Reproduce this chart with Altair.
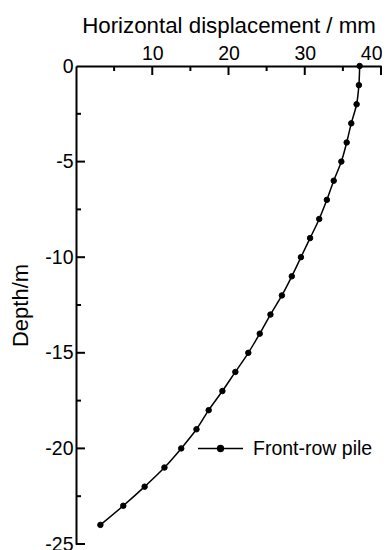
import altair as alt
import pandas as pd

# ---- data ----
depth = [0, -1, -2, -3, -4, -5, -6, -7, -8, -9, -10, -11, -12,
         -13, -14, -15, -16, -17, -18, -19, -20, -21, -22, -23, -24]
displacement = [37.2, 37.1, 36.8, 36.1, 35.5, 34.8, 33.8, 32.9, 31.9, 30.7, 29.5, 28.3, 27.0,
                25.5, 24.1, 22.6, 20.9, 19.2, 17.4, 15.8, 13.8, 11.6, 9.0, 6.2, 3.2]
series_name = "Front-row pile"

x_labels = [10, 20, 30, 40]
x_minor = [5, 15, 25, 35]
y_labels = [0, -5, -10, -15, -20, -25]
y_major_ticks = [-5, -10, -15, -20, -25]
y_minor_ticks = [-2.5, -7.5, -12.5, -17.5, -22.5]

FONT = "Liberation Sans"

df = pd.DataFrame({"depth": depth, "disp": displacement,
                   "series": [series_name] * len(depth)})

xscale = alt.Scale(domain=[0, 40], nice=False, zero=False)
yscale = alt.Scale(domain=[-25, 0], nice=False, zero=False)

x_axis = alt.Axis(
    orient="top", values=x_labels, ticks=False,
    labelPadding=3, labelFont=FONT, labelFontSize=19.5, labelColor="black",
    labelFlush=True, labelFlushOffset=1, labelOverlap=False,
    domainColor="black", domainWidth=2, grid=False,
    title="Horizontal displacement / mm", titleFont=FONT, titleFontSize=22.3,
    titleFontWeight="normal", titleColor="black",
    titleX=152.5, titleY=-34, titleBaseline="alphabetic", titleAlign="center",
)
y_axis = alt.Axis(
    orient="left", values=y_labels, ticks=False,
    labelPadding=3, labelFont=FONT, labelFontSize=19.5, labelColor="black",
    labelFlush=False, labelOverlap=False, labelExpr="'' + datum.value",
    domainColor="black", domainWidth=2, grid=False,
    title="Depth/m", titleFont=FONT, titleFontSize=22,
    titleFontWeight="normal", titleColor="black", titleAngle=270,
    titleX=-49, titleY=239, titleBaseline="alphabetic", titleAlign="center",
)

def X(f):
    return alt.X(f, scale=xscale, axis=x_axis)

def Y(f):
    return alt.Y(f, scale=yscale, axis=y_axis)

base = alt.Chart(df)
line = base.mark_line(color="black", strokeWidth=1.5, interpolate="catmull-rom").encode(
    x=X("disp:Q"), y=Y("depth:Q"),
    order=alt.Order("depth:Q", sort="ascending"),
)

legend_path = ("M-1,0L1,0M0.13,0A0.13,0.13,0,1,1,-0.13,0"
               "A0.13,0.13,0,1,1,0.13,0Z")
points = base.mark_point(filled=True, size=30, opacity=1, stroke="black",
                         strokeWidth=1).encode(
    x=X("disp:Q"), y=Y("depth:Q"),
    color=alt.Color("series:N", scale=alt.Scale(range=["black"]),
                    legend=alt.Legend(
                        orient="none", legendX=121, legendY=359, title=None,
                        padding=0, symbolType=legend_path, symbolSize=2025,
                        symbolStrokeWidth=1.5, symbolFillColor="black",
                        symbolStrokeColor="black", symbolOpacity=1,
                        labelFont=FONT, labelFontSize=19.5, labelColor="black",
                        labelOffset=9)),
)


def tick_source(values):
    # one row of the main data, expanded into the tick values
    return (base.transform_filter("datum.depth == 0")
                .transform_calculate(v=str(list(values)), z="0")
                .transform_flatten(["v"]))


xt_major = tick_source(x_labels).mark_tick(
    color="black", opacity=1, orient="vertical", thickness=2, size=9, yOffset=4.5).encode(
    x=X("v:Q"), y=Y("z:Q"))
xt_minor = tick_source(x_minor).mark_tick(
    color="black", opacity=1, orient="vertical", thickness=2, size=5, yOffset=2.5).encode(
    x=X("v:Q"), y=Y("z:Q"))
yt_major = tick_source(y_major_ticks).mark_tick(
    color="black", opacity=1, orient="horizontal", thickness=2, size=9, xOffset=4.5).encode(
    x=X("z:Q"), y=Y("v:Q"))
yt_minor = tick_source(y_minor_ticks).mark_tick(
    color="black", opacity=1, orient="horizontal", thickness=2, size=5, xOffset=2.5).encode(
    x=X("z:Q"), y=Y("v:Q"))

chart = alt.layer(line, points, xt_major, xt_minor, yt_major, yt_minor).properties(
    width=305, height=478,
    autosize=alt.AutoSizeParams(type="none"),
    padding={"left": 68, "top": 58, "right": 1, "bottom": 8},
).configure_view(stroke=None)

chart.save("out.html", embed_options={"renderer": "svg", "actions": False})
